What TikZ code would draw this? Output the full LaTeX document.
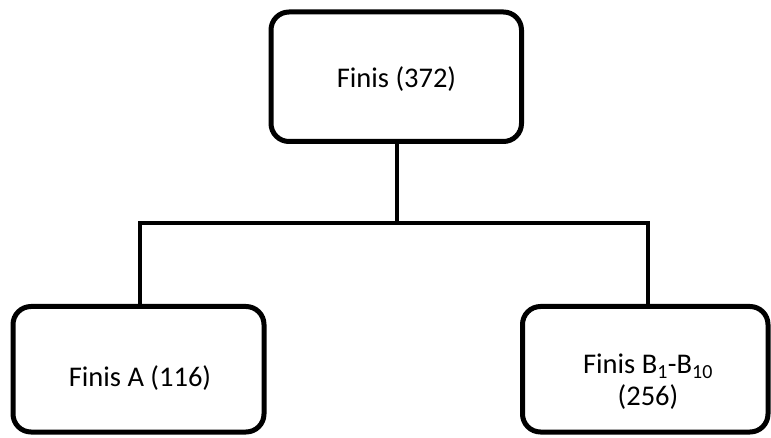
\documentclass[tikz,border=0pt]{standalone}
\usepackage{fontspec}
\setmainfont{Carlito}
\begin{document}
\begin{tikzpicture}[x=1pt,y=-1pt,
  box/.style={draw=black, line width=5pt, rounded corners=18pt, fill=white,
    minimum width=#1, minimum height=125.5pt, inner sep=0pt},
  box/.default=251pt,
  label text/.style={font=\fontsize{28.5}{32}\selectfont, align=center, inner sep=0pt},
  link/.style={draw=black, line width=3.8pt, line cap=rect}]
  \useasboundingbox (0,0) rectangle (771,438);
  % tree boxes
  \node[box, minimum height=129.5pt, minimum width=250.5pt] (root) at (396.25,76.75) {};
  \node[box] (fa) at (138.5,369.25) {};
  \node[box=245.5pt] (fb) at (645.25,369.25) {};
  % labels
  \node[label text] (troot) at (396.5,79) {Finis (372)};
  \node[label text] (tfa) at (140,378) {Finis A (116)};
  \node[label text] (tfb) at (648,382) {Finis B\textsubscript{1}-B\textsubscript{10}\\(256)};
  % connectors
  \coordinate (bar) at (396,223);
  \draw[link] ([xshift=0.75pt]root.south) -- ([xshift=0.75pt]root.south |- bar);
  \draw[link] ([xshift=1.5pt]fa.north) |- (bar) -| ([xshift=2.75pt]fb.north);
\end{tikzpicture}
\end{document}
